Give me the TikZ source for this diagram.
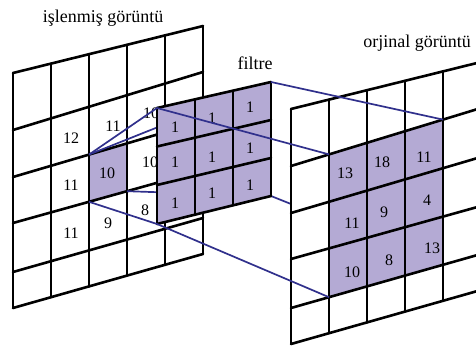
\documentclass[tikz,border=0pt]{standalone}
\usepackage{fontspec}
\setmainfont{Liberation Serif}
\usetikzlibrary{calc}
\definecolor{lav}{RGB}{180,170,212}
\definecolor{navy}{RGB}{48,48,140}

\begin{document}
\begin{tikzpicture}[x=1pt,y=-1pt,grid/.style={line width=2.6pt, line cap=round, line join=round}, ray/.style={navy, line width=1.7pt}]
    \tikzset{num/.style={inner sep=0pt, font=\fontsize{16}{16}\selectfont}}
    \tikzset{title/.style={inner sep=0pt, anchor=base, font=\fontsize{18}{18}\selectfont}}
    \tikzset{lavfill/.style={fill=lav}}
    \useasboundingbox (0,0) rectangle (476,347);

    % corners of the planes
    \foreach \k/\yl/\yr in {0/73/26,1/130/72,2/177/121,3/223/170,4/272/218,5/308/254} {
    \coordinate (a\k) at (13,\yl);  \coordinate (b\k) at (203,\yr);
    \coordinate (c\k) at (291,\yl+36);  \coordinate (d\k) at (481,\yr+36);
    }
    \foreach \k/\yl/\yr in {0/108/82,1/146.5/120,2/185/158,3/224/196} {
    \coordinate (f\k) at (157,\yl);  \coordinate (g\k) at (271,\yr);
    }
    \coordinate (lTL) at ($(a2)!0.4!(b2)$);  \coordinate (lTR) at ($(a2)!0.6!(b2)$);
    \coordinate (lBL) at ($(a3)!0.4!(b3)$);  \coordinate (lBR) at ($(a3)!0.6!(b3)$);
    \coordinate (rTL) at ($(c1)!0.2!(d1)$);  \coordinate (rTR) at ($(c1)!0.8!(d1)$);
    \coordinate (rBL) at ($(c4)!0.2!(d4)$);  \coordinate (rBR) at ($(c4)!0.8!(d4)$);

    % islenmis goruntu
    \fill[lavfill] (lTL) -- (lTR) -- (lBR) -- (lBL) -- cycle;
    \foreach \k in {0,...,5} \draw[grid] (a\k) -- (b\k);
    \foreach \i in {0,...,5} \draw[grid] ($(a0)!\i/5!(b0)$) -- ($(a5)!\i/5!(b5)$);
    \foreach \x/\y/\t [count=\n] in {71/138/12,113/126/11,151/113/10,71/185/11,107/173/10,150/162/10,71/233/11,108/223/9,145/210/8}
    \node[num] (l\n) at (\x,\y) {\t};

    \draw[ray] (lTL) -- (g0);
    \draw[ray] (lBR) -- (g3);
    \draw[ray] (g3) -- (rBR);

    % orjinal goruntu
    \fill[white] (c0) -- (d0) -- (d5) -- (c5) -- cycle;
    \fill[lavfill] (rTL) -- (rTR) -- (rBR) -- (rBL) -- cycle;
    \foreach \k in {0,...,5} \draw[grid] (c\k) -- (d\k);
    \foreach \i in {0,...,5} \draw[grid] ($(c0)!\i/5!(d0)$) -- ($(c5)!\i/5!(d5)$);
    \foreach \x/\y/\t [count=\n] in {345/173/13,382/162/18,424/157/11,352/223/11,384/212/9,427/200/4,352/272/10,389/260/8,432/248/13}
    \node[num] (o\n) at (\x,\y) {\t};

    % filtre
    \fill[lavfill] (f0) -- (g0) -- (g3) -- (f3) -- cycle;
    \foreach \k in {0,...,3} \draw[grid] (f\k) -- (g\k);
    \foreach \i in {0,...,3} \draw[grid] ($(f0)!\i/3!(g0)$) -- ($(f3)!\i/3!(g3)$);
    \foreach \x/\y [count=\n] in {175/127,212/118,250/107,175/162,212/157,250/148,175/203,212/193,250/185}
    \node[num] (w\n) at (\x,\y) {1};

    \draw[ray] (lTL) -- (f0) -- (rTL);
    \draw[ray] (lBL) -- (f3) -- (rBL);
    \draw[ray] (g0) -- (rTR);

    \node[title] (tl) at (103,23) {işlenmiş görüntü};
    \node[title] (tf) at (255,70) {filtre};
    \node[title] (tr) at (417,48) {orjinal görüntü};
\end{tikzpicture}
\end{document}
